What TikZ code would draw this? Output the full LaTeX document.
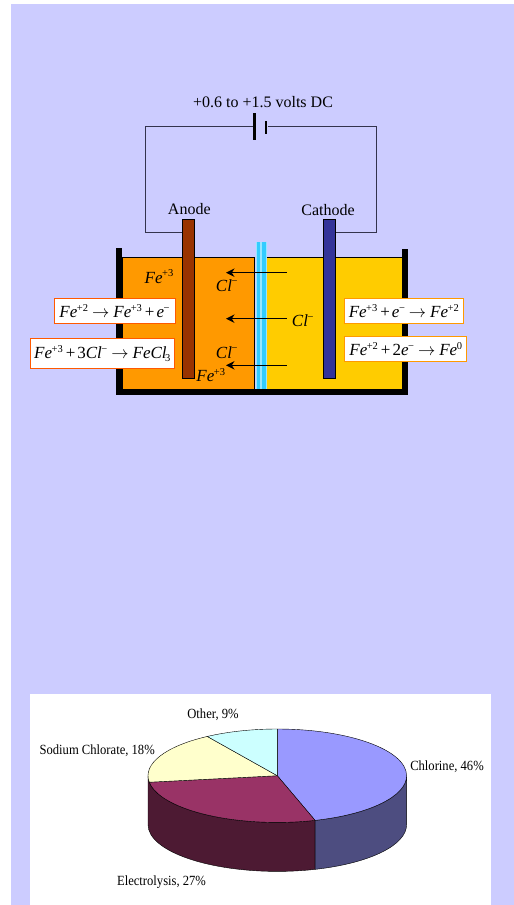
\documentclass[tikz,border=0pt]{standalone}
\usepackage{fontspec}
\usetikzlibrary{arrows.meta}
\setmainfont{Liberation Serif}
\definecolor{lav}{HTML}{CCCCFF}
\definecolor{anodeorange}{HTML}{FF9900}
\definecolor{cathyellow}{HTML}{FFCC00}
\definecolor{anodebrown}{HTML}{993300}
\definecolor{cathblue}{HTML}{333399}
\definecolor{memblue}{HTML}{33CCFF}
\definecolor{memlight}{HTML}{99E6FF}
\definecolor{wire}{HTML}{33334D}
\newcommand{\chem}[1]{\textit{#1}}
\newcommand{\up}[1]{\raisebox{.38em}{\fontsize{10.5}{10.5}\selectfont\kern-.5pt #1}}
\newcommand{\arr}{\kern4pt\raisebox{.5pt}{$\rightarrow$}\kern4pt}
\newcommand{\pl}{\kern3pt+\kern2pt}
\newcommand{\low}[1]{\raisebox{-1.6pt}{#1}}
\tikzset{
  x=1pt,y=-1pt,
  txt/.style={inner sep=0,font=\fontsize{16}{16}\selectfont,text=black},
  chemlab/.style={inner sep=0,font=\fontsize{17}{17}\selectfont,text=black},
  pielab/.style={inner sep=0,text=black},
  eqleft/.style={draw=orange!70!red,fill=white,line width=.8pt,inner sep=0,font=\fontsize{17}{17}\selectfont},
  eqright/.style={draw=anodeorange,fill=white,line width=.8pt,inner sep=0,font=\fontsize{17}{17}\selectfont},
  electrode/.style={draw=black,line width=.7pt,inner sep=0,minimum width=12.4pt,minimum height=159.4pt},
  wall/.style={fill=black,draw=none,inner sep=0},
  cw/.style={draw=wire,line width=1pt},
  flux/.style={draw=black,line width=1.1pt,-{Stealth[length=8.5pt,width=8.5pt]}},
  slice/.style={draw=black,line width=.4pt,line join=round},
}
\newcommand{\plab}[1]{\scalebox{.9}[1]{\fontsize{14}{14}\selectfont #1}}
\begin{document}
\begin{tikzpicture}
\useasboundingbox (0,0) rectangle (514,905);
\fill[lav] (11,4) rectangle (514,905);
% liquid
\node[draw=black,line width=.7pt,fill=anodeorange,inner sep=0,minimum width=132.7pt,minimum height=131.7pt] (orange) at (188.35,323.15) {};
\node[draw=black,line width=.7pt,fill=cathyellow,inner sep=0,minimum width=135.3pt,minimum height=131.7pt] (yellow) at (334.35,323.15) {};
% membrane
\fill[memlight] (255.6,242.3) rectangle (267,389);
\fill[memblue] (257,242.3) rectangle (260,389);
\fill[memblue] (262,242.3) rectangle (265.6,389);
% tank
\node[wall,minimum width=6pt,minimum height=146.7pt] (wl) at (119,321.35) {};
\node[wall,minimum width=6pt,minimum height=145.7pt] (wr) at (405,321.85) {};
\node[wall,minimum width=292pt,minimum height=5.7pt] (wb) at (262,391.85) {};
% electrodes
\node[electrode,fill=anodebrown] (anode) at (188.5,299) {};
\node[electrode,fill=cathblue] (cathode) at (329.5,299) {};
% circuit
\node[inner sep=0,minimum width=2.8pt,minimum height=27pt,fill=black] (bl) at (254.7,126.5) {};
\node[inner sep=0,minimum width=2.8pt,minimum height=13.4pt,fill=black] (bs) at (266,127.3) {};
\coordinate (c1) at (145,126.7);
\coordinate (c2) at (145,232.7);
\coordinate (c3) at (376.7,126.7);
\coordinate (c4) at (376.7,232.7);
\draw[cw] (bl.west |- c1) -- (c1) -- (c2) -- (anode.west |- c2);
\draw[cw] (bs.east |- c3) -- (c3) -- (c4) -- (cathode.east |- c4);
\node[txt] (volt) at (263,102.5) {+0.6 to +1.5 volts DC};
\node[txt] (an) at (189.3,208.7) {Anode};
\node[txt] (ca) at (328,210.3) {Cathode};
% arrows
\coordinate (a1s) at (286.7,272.7); \coordinate (a1e) at (226,272.7);
\coordinate (a2s) at (286.7,318.7); \coordinate (a2e) at (226,318.7);
\coordinate (a3s) at (286.7,365.3); \coordinate (a3e) at (226,365.3);
\draw[flux] (a1s) -- (a1e);
\draw[flux] (a2s) -- (a2e);
\draw[flux] (a3s) -- (a3e);
% ion labels
\node[chemlab] (fe1) at (159,276.7) {\chem{Fe}\up{+3}};
\node[chemlab] (fe2) at (210.7,375) {\chem{Fe}\up{+3}};
\node[chemlab] (cl1) at (226.7,285.5) {\chem{Cl}\up{\textminus}};
\node[chemlab] (cl2) at (302.7,321) {\chem{Cl}\up{\textminus}};
\node[chemlab] (cl3) at (226.7,352.5) {\chem{Cl}\up{\textminus}};
% equations
\node[eqleft,minimum width=121pt,minimum height=25.4pt] (eq1) at (114.5,311) {\low{\chem{Fe}\up{+2}\arr\chem{Fe}\up{+3}\pl\chem{e}\up{\textminus}}};
\node[eqleft,minimum width=144pt,minimum height=30pt] (eq2) at (102.3,353.3) {\chem{Fe}\up{+3}\pl3\chem{Cl}\up{\textminus}\arr\chem{FeCl}\raisebox{-.15em}{\fontsize{10.5}{10.5}\selectfont\kern-1.5pt 3}};
\node[eqright,minimum width=119.7pt,minimum height=25.4pt] (eq3) at (403.8,311) {\low{\chem{Fe}\up{+3}\pl\chem{e}\up{\textminus}\arr\chem{Fe}\up{+2}}};
\node[eqright,minimum width=122pt,minimum height=25.4pt] (eq4) at (405.7,349) {\low{\chem{Fe}\up{+2}\pl2\chem{e}\up{\textminus}\arr\chem{Fe}\up{0}}};
% pie panel
\fill[white] (30,694) rectangle (491,905);
\begin{scope}[shift={(277.3,775.7)},x=1pt,y=1pt]
  \def\rx{129.3pt}\def\ry{46.7pt}
  \path[slice,fill={rgb,255:red,77;green,26;blue,51}]
    (-129.3,0) arc[start angle=180,end angle=287,x radius=\rx,y radius=\ry]
    -- ++(0,-49) arc[start angle=287,end angle=180,x radius=\rx,y radius=\ry] -- cycle;
  \path[slice,fill={rgb,255:red,77;green,77;blue,128}]
    ({129.3*cos(287)},{46.7*sin(287)}) arc[start angle=287,end angle=360,x radius=\rx,y radius=\ry]
    -- ++(0,-49) arc[start angle=360,end angle=287,x radius=\rx,y radius=\ry] -- cycle;
  \path[slice,fill={rgb,255:red,153;green,153;blue,255}]
    (0,0) -- (0,46.7) arc[start angle=90,end angle=-73,x radius=\rx,y radius=\ry] -- cycle;
  \path[slice,fill={rgb,255:red,153;green,51;blue,102}]
    (0,0) -- ({129.3*cos(287)},{46.7*sin(287)}) arc[start angle=287,end angle=188,x radius=\rx,y radius=\ry] -- cycle;
  \path[slice,fill={rgb,255:red,255;green,255;blue,204}]
    (0,0) -- ({129.3*cos(188)},{46.7*sin(188)}) arc[start angle=188,end angle=122.8,x radius=\rx,y radius=\ry] -- cycle;
  \path[slice,fill={rgb,255:red,204;green,255;blue,255}]
    (0,0) -- ({129.3*cos(122.8)},{46.7*sin(122.8)}) arc[start angle=122.8,end angle=90,x radius=\rx,y radius=\ry] -- cycle;
\end{scope}
\node[pielab] (pother) at (213,714.5) {\plab{Other, 9\%}};
\node[pielab] (psod) at (97.2,751) {\plab{Sodium Chlorate, 18\%}};
\node[pielab] (pchl) at (447,767) {\plab{Chlorine, 46\%}};
\node[pielab] (pele) at (161.5,882) {\plab{Electrolysis, 27\%}};
\end{tikzpicture}
\end{document}
